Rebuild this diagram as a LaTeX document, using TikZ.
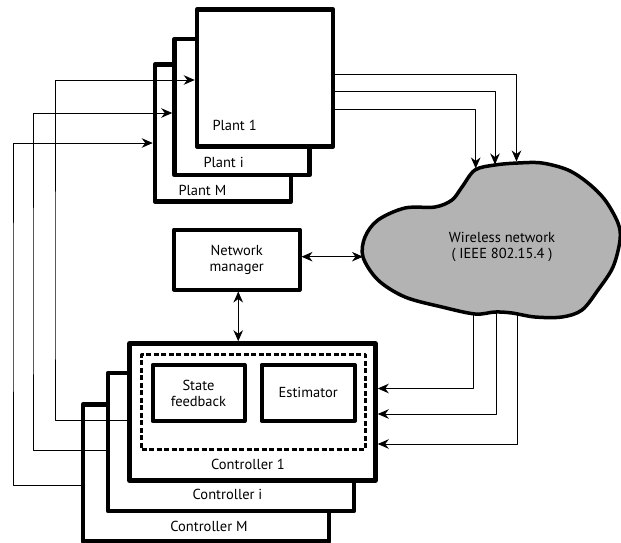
\documentclass[tikz,border=0pt]{standalone}
\usepackage{fontspec}
\setmainfont{PT Sans}
\usetikzlibrary{arrows.meta}
\definecolor{cloudgray}{RGB}{179,179,179}
\begin{document}
\begin{tikzpicture}[x=1pt,y=-1pt,line join=round,>={Stealth[length=11pt,width=9.5pt,inset=3.5pt]},font=\fontsize{14.5}{16}\selectfont,
	blk/.style={draw,line width=4.5pt,fill=white,inner sep=0pt},
	inblk/.style={draw,line width=4pt,fill=white,align=center,inner sep=0pt},
	sig/.style={line width=0.9pt}]
	\useasboundingbox (0,0) rectangle (621,543);
	% plants
	\node[blk,minimum width=136,minimum height=137] (pM) at (223,133) {};
	\node[blk,minimum width=135,minimum height=136] (pi) at (242,107) {};
	\node[blk,minimum width=136,minimum height=137] (p1) at (265,78) {};
	\node[anchor=west] (lp1) at (209,125) {Plant 1};
	\node[anchor=west] (lpi) at (200,162) {Plant i};
	\node[anchor=west] (lpM) at (175,190) {Plant M};
	% controllers
	\node[blk,minimum width=246,minimum height=137] (cM) at (206,473) {};
	\node[blk,minimum width=246,minimum height=138] (ci) at (231,442) {};
	\node[blk,minimum width=246,minimum height=137] (c1) at (252.5,412) {};
	\node[draw,line width=3pt,dash pattern=on 5pt off 2.5pt,minimum width=223.5,minimum height=95] (dsh) at (253.25,402) {};
	\node[inblk,minimum width=92,minimum height=56] (sf) at (198.5,393) {State\\feedback};
	\node[inblk,minimum width=93.5,minimum height=55.5] (est) at (308.25,392.75) {Estimator};
	\node (lc1) at (248,464) {Controller 1};
	\node (lci) at (227.5,494) {Controller i};
	\node (lcM) at (209,526) {Controller M};
	% network manager
	\node[inblk,minimum width=125.5,minimum height=60] (nm) at (236.75,259.5) {Network\\manager};
	% wireless network
	\draw[line width=3.5pt,fill=cloudgray] plot[smooth cycle,tension=0.55] coordinates {(475,170) (495,165) (518,163) (542,163) (568,170) (588,183) (605,200) (618,223) (620,240) (613,267) (598,290) (582,310) (562,317) (535,317) (512,313) (495,312) (475,314) (442,307) (405,297) (378,280) (363,257) (365,237) (378,220) (405,208) (435,207) (452,200) (462,187)};
	\node[align=center] (wn) at (502,247) {Wireless network\\( IEEE 802.15.4 )};
	\coordinate (t1) at (475.7,168.5);
	\coordinate (t2) at (495,164.5);
	\coordinate (t3) at (516.5,161.5);
	\coordinate (b1) at (473.3,313);
	\coordinate (b2) at (496.7,312);
	\coordinate (b3) at (517.3,313);
	\coordinate (cw) at (363,256.7);
	% feedback paths
	\coordinate (k1) at (55,300);
	\coordinate (k2) at (33,300);
	\coordinate (k3) at (13,300);
	\draw[sig,->] ([yshift=-8pt]c1.west) -| (k1) |- ([yshift=-2pt]p1.west);
	\draw[sig,->] ([yshift=-8pt]ci.west) -| (k2) |- ([yshift=-6pt]pi.west);
	\draw[sig,->] ([yshift=-12.5pt]cM.west) -| (k3) |- ([yshift=-10pt]pM.west);
	\draw[sig,->] ([yshift=4pt]p1.east) -| (t3);
	\draw[sig,->] ([yshift=-13pt]p1.east) -| (t2);
	\draw[sig,->] ([yshift=-31pt]p1.east) -| (t1);
	\draw[sig,->] (b1) |- ([yshift=23.5pt]c1.east);
	\draw[sig,->] (b2) |- ([yshift=-2pt]c1.east);
	\draw[sig,->] (b3) |- ([yshift=-32pt]c1.east);
	\draw[sig,<->] (nm.east |- cw) -- (cw);
	\draw[sig,<->] ([xshift=1.5pt]nm.south) -- ([xshift=1.5pt]nm.south |- c1.north);
\end{tikzpicture}
\end{document}
